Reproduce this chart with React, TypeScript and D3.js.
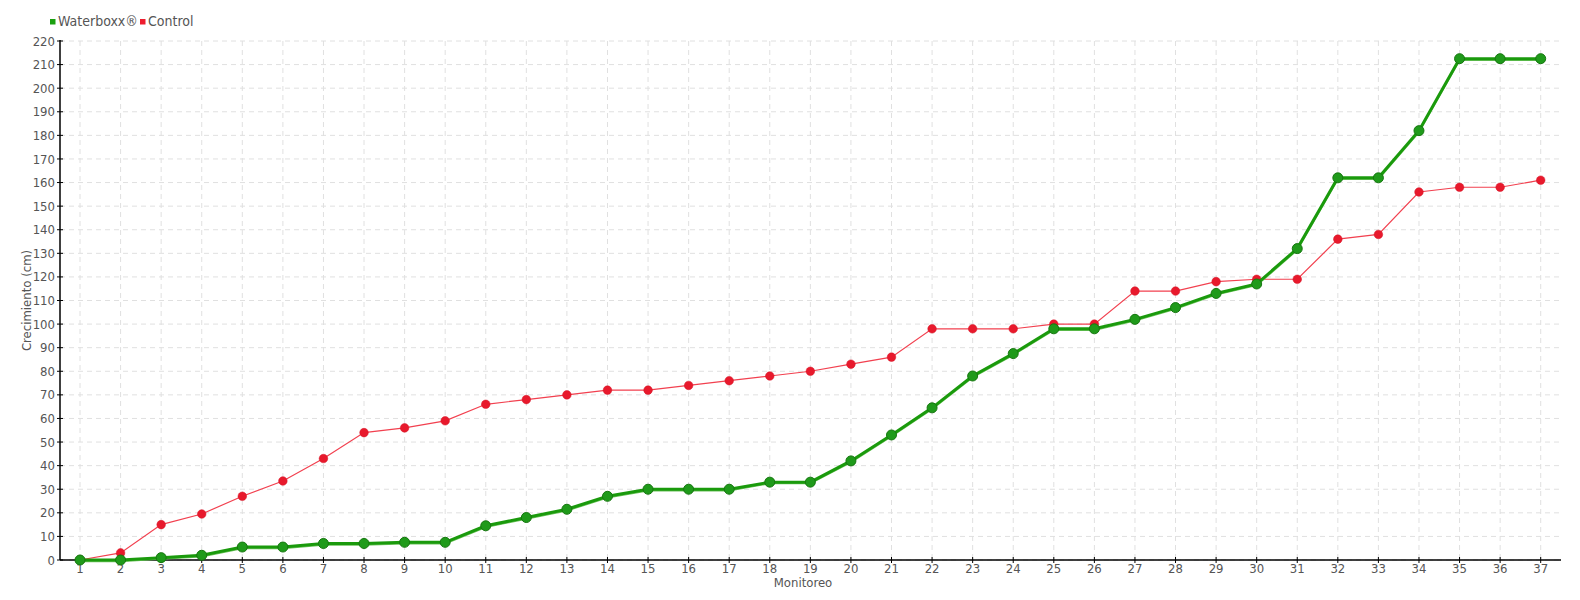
import React from "react";
import * as d3 from "d3";

const monitoreo = d3.range(1, 38);
const waterboxx = [0, 0, 1, 2, 5.5, 5.5, 7, 7, 7.5, 7.5, 14.5, 18, 21.5, 27, 30, 30, 30, 33, 33, 42, 53, 64.5, 78, 87.5, 98, 98, 102, 107, 113, 117, 132, 162, 162, 182, 212.5, 212.5, 212.5];
const control = [0, 3, 15, 19.5, 27, 33.5, 43, 54, 56, 59, 66, 68, 70, 72, 72, 74, 76, 78, 80, 83, 86, 98, 98, 98, 100, 100, 114, 114, 118, 119, 119, 136, 138, 156, 158, 158, 161];
const yTicks = d3.range(0, 221, 10);

const FONT = "'Liberation Sans Narrow', 'DejaVu Sans Condensed', 'Roboto', sans-serif";

export default function App() {
  const W = 1580, H = 600;
  const left = 60, right = 1561, top = 41, bottom = 560;
  const x = d3.scaleLinear().domain([1, 37]).range([80, 1540.7]);
  const y = d3.scaleLinear().domain([0, 220]).range([bottom, top]);
  const line = d3.line<number>().x((_, i) => x(monitoreo[i])).y((d) => y(d));
  const textColor = "#555";
  return (
    <svg width={W} height={H} style={{ position: "absolute", left: 0, top: 0, fontFamily: FONT }}>
      <rect width={W} height={H} fill="#fff" />
      {/* grid */}
      {yTicks.map((t) => (
        <line key={"gy" + t} x1={left} x2={right - 2} y1={y(t)} y2={y(t)} stroke="#e0e0e0" strokeDasharray="5,4" />
      ))}
      {monitoreo.map((m) => (
        <line key={"gx" + m} x1={x(m)} x2={x(m)} y1={top} y2={bottom} stroke="#e0e0e0" strokeDasharray="5,4" />
      ))}
      {/* axes */}
      <line x1={left} x2={left} y1={top - 1} y2={bottom} stroke="#000" strokeWidth={1.5} />
      <line x1={left} x2={right} y1={bottom} y2={bottom} stroke="#000" strokeWidth={1.5} />
      {yTicks.map((t) => (
        <g key={"yt" + t}>
          <line x1={left - 3} x2={left + 3} y1={y(t)} y2={y(t)} stroke="#000" />
          <text x={left - 5} y={y(t)} dy="0.35em" textAnchor="end" fontSize={13} fill={textColor}>{t}</text>
        </g>
      ))}
      {monitoreo.map((m) => (
        <g key={"xt" + m}>
          <line x1={x(m)} x2={x(m)} y1={bottom - 3} y2={bottom + 3} stroke="#000" />
          <text x={x(m)} y={bottom + 13} textAnchor="middle" fontSize={13} fill={textColor}>{m}</text>
        </g>
      ))}
      <text x={803} y={587} textAnchor="middle" fontSize={13} fill={textColor}>Monitoreo</text>
      <text transform={`translate(31,${(top + bottom) / 2}) rotate(-90)`} textAnchor="middle" fontSize={13} fill={textColor}>Crecimiento (cm)</text>
      {/* control */}
      <path d={line(control) || ""} fill="none" stroke="#f2404f" strokeWidth={1.2} />
      {control.map((v, i) => (
        <circle key={"c" + i} cx={x(monitoreo[i])} cy={y(v)} r={4.3} fill="#e8192c" stroke="#d41526" strokeWidth={0.5} />
      ))}
      {/* waterboxx */}
      <path d={line(waterboxx) || ""} fill="none" stroke="#6cc25c" strokeWidth={2} transform="translate(0,1.2)" />
      <path d={line(waterboxx) || ""} fill="none" stroke="#1a9a0c" strokeWidth={3} />
      {waterboxx.map((v, i) => (
        <circle key={"w" + i} cx={x(monitoreo[i])} cy={y(v)} r={5} fill="#1f9a1a" stroke="#16770f" strokeWidth={1} />
      ))}
      {/* legend */}
      <rect x={50} y={19} width={5.5} height={5.5} fill="#1aa00f" />
      <text x={58} y={26} fontSize={14} fill={textColor}>Waterboxx®</text>
      <rect x={140} y={19} width={5.5} height={5.5} fill="#ee1c2e" />
      <text x={148} y={26} fontSize={14} fill={textColor}>Control</text>
    </svg>
  );
}
